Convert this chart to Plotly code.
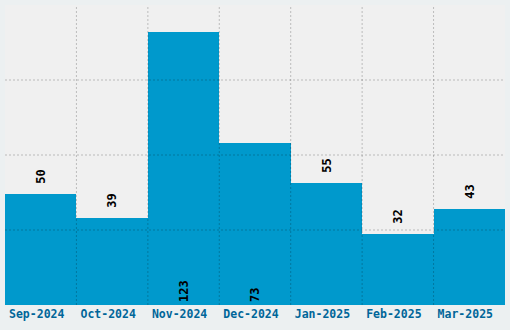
import plotly.graph_objects as go

categories = ["Sep-2024", "Oct-2024", "Nov-2024", "Dec-2024", "Jan-2025", "Feb-2025", "Mar-2025"]
values = [50, 39, 123, 73, 55, 32, 43]
inside_labels = [False, False, True, True, False, False, False]

y_max = 135
x_idx = list(range(len(categories)))

fig = go.Figure()
fig.add_trace(go.Bar(
    x=x_idx, y=values, width=1,
    marker=dict(color="#0099cc", line=dict(width=0)),
    text=[str(v) if f else "\u2002" + str(v) for v, f in zip(values, inside_labels)],
    textposition=["inside" if f else "outside" for f in inside_labels],
    insidetextanchor="start",
    textangle=-90,
    textfont=dict(family="DejaVu Sans Mono", size=12, color="#000000", weight="bold"),
    cliponaxis=False,
    hoverinfo="skip",
))

grid = dict(color="rgba(0,0,0,0.22)", width=1, dash="2px,2px")
shapes = []
for i in range(1, len(categories)):
    shapes.append(dict(type="line", xref="x", yref="paper", x0=i - 0.5, x1=i - 0.5, y0=0, y1=1,
                       line=grid, layer="above"))
for f in [0.25, 0.5, 0.75]:
    shapes.append(dict(type="line", xref="paper", yref="paper", x0=0, x1=1, y0=f, y1=f,
                       line=grid, layer="above"))

fig.update_layout(
    width=510, height=330,
    margin=dict(l=5, r=5, t=5, b=25),
    paper_bgcolor="#ecf0f1",
    plot_bgcolor="#f0f0f0",
    bargap=0,
    showlegend=False,
    shapes=shapes,
    xaxis=dict(range=[-0.5, len(categories) - 0.5], tickvals=x_idx, ticktext=categories,
               showgrid=False, zeroline=False, showline=False, ticks="", ticklabelshift=-4,
               tickfont=dict(family="DejaVu Sans Mono", size=11.5, color="#006699", weight="bold")),
    yaxis=dict(range=[0, y_max], showgrid=False, zeroline=False, showticklabels=False, showline=False),
)

fig.write_html("out.html")
